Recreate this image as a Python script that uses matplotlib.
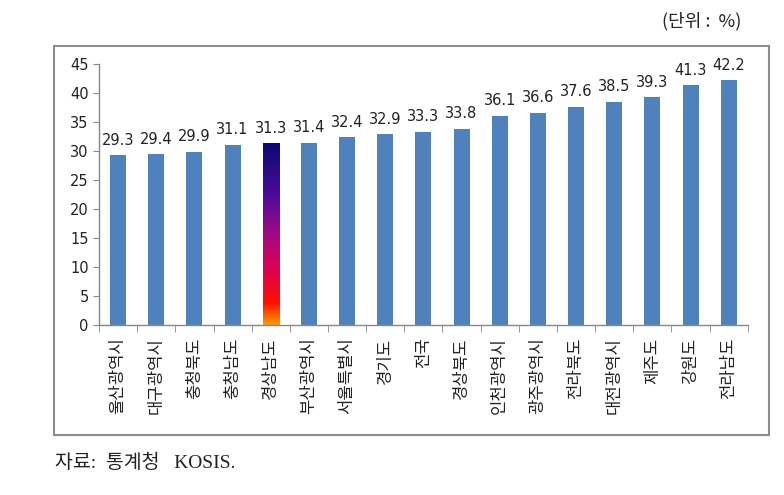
import numpy as np
import matplotlib.pyplot as plt
from matplotlib.colors import LinearSegmentedColormap
from matplotlib.patches import Rectangle

plt.rcParams['font.family'] = ['Noto Sans CJK KR', 'DejaVu Sans']

regions = ['울산광역시', '대구광역시', '충청북도', '충청남도', '경상남도', '부산광역시',
           '서울특별시', '경기도', '전국', '경상북도', '인천광역시', '광주광역시',
           '전라북도', '대전광역시', '제주도', '강원도', '전라남도']
values = [29.3, 29.4, 29.9, 31.1, 31.3, 31.4, 32.4, 32.9, 33.3, 33.8,
          36.1, 36.6, 37.6, 38.5, 39.3, 41.3, 42.2]
highlight = '경상남도'

bar_color = '#4f81bd'
grad = LinearSegmentedColormap.from_list(
    'grad', [(0.0, '#ff9a00'), (0.12, '#ff1000'), (0.3, '#e0004e'),
             (0.5, '#a00a84'), (0.72, '#4a0a9a'), (1.0, '#0a0a70')])

fig = plt.figure(figsize=(7.84, 4.95), dpi=100)
ax = fig.add_axes([0.1263, 0.3434, 0.8275, 0.5273])

x = np.arange(len(regions))
bars = ax.bar(x, values, width=0.42, color=bar_color, zorder=2)

# gradient fill for highlighted region
hb = bars[regions.index(highlight)]
hb.set_facecolor('none')
img = np.linspace(0, 1, 256).reshape(-1, 1)
im = ax.imshow(img, cmap=grad, origin='lower', aspect='auto',
               extent=[hb.get_x(), hb.get_x() + hb.get_width(), 0, hb.get_height()],
               zorder=2)
im.set_clip_path(hb)

for xi, v in zip(x, values):
    ax.text(xi, v + 1.3, f'{v:.1f}', ha='center', va='bottom', fontsize=10.5,
            color='#222222', family=['DejaVu Sans'])

ax.set_xlim(-0.5, len(regions) - 0.5)
ax.set_ylim(0, 45)
ax.set_yticks(range(0, 46, 5))
ax.set_xticks(x)
ax.set_xticklabels(regions, rotation=90, fontsize=12, color='#222222')
ax.set_xticks(np.arange(-0.5, len(regions)), minor=True)
ax.tick_params(axis='x', which='major', length=0, pad=9)
ax.tick_params(axis='x', which='minor', length=5, color='#888888')
ax.tick_params(axis='y', length=4, color='#888888', labelsize=10.5, labelcolor='#222222')
for lab in ax.get_yticklabels():
    lab.set_family(['DejaVu Sans'])

for s in ['top', 'right']:
    ax.spines[s].set_visible(False)
for s in ['left', 'bottom']:
    ax.spines[s].set_color('#888888')
    ax.spines[s].set_linewidth(1)

fig.patches.append(Rectangle((0.0689, 0.1212), 0.912, 0.786, transform=fig.transFigure,
                             fill=False, edgecolor='#8c8c8c', linewidth=1.5))

fig.text(0.945, 0.975, '(단위 :  %)', ha='right', va='top', fontsize=13, color='#222222')
fig.text(0.07, 0.065, '자료:  통계청   KOSIS.', ha='left', va='center', fontsize=14,
         color='#222222', family=['Liberation Serif', 'Noto Sans CJK KR'])

fig.savefig('out.png', dpi=100)
